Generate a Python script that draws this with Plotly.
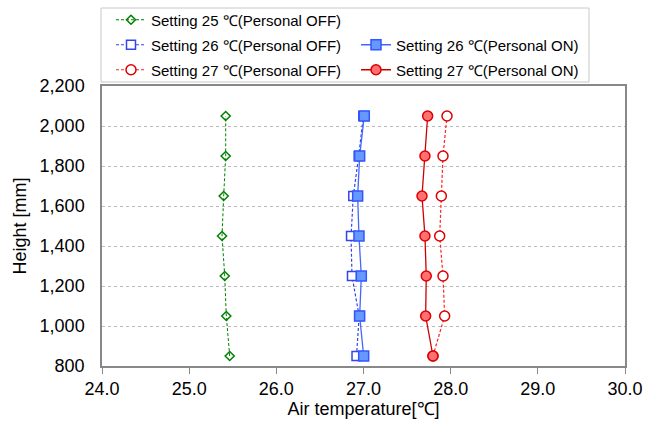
import plotly.graph_objects as go

heights = [850, 1050, 1250, 1450, 1650, 1850, 2050]
t25_off = [25.465, 25.426, 25.408, 25.377, 25.396, 25.419, 25.419]
t26_off = [26.920, 26.950, 26.868, 26.857, 26.883, 26.945, 26.998]
t26_on = [27.002, 26.956, 26.975, 26.948, 26.933, 26.956, 27.009]
t27_off = [27.797, 27.931, 27.912, 27.874, 27.893, 27.912, 27.958]
t27_on = [27.797, 27.713, 27.720, 27.705, 27.671, 27.705, 27.736]

x_ticks = [24, 25, 26, 27, 28, 29, 30]
y_ticks = [800, 1000, 1200, 1400, 1600, 1800, 2000, 2200]

FONT = "Liberation Sans"
DASH = "3px,2px"

fig = go.Figure()

fig.add_trace(go.Scatter(
    x=t25_off, y=heights, mode="lines+markers",
    name="Setting 25 ℃(Personal OFF)", legend="legend",
    line=dict(color="#008000", dash=DASH, width=1),
    marker=dict(symbol="diamond-open", size=7, color="#008000", line=dict(width=1.5)),
))
fig.add_trace(go.Scatter(
    x=t26_off, y=heights, mode="lines+markers",
    name="Setting 26 ℃(Personal OFF)", legend="legend2",
    line=dict(color="#3344ee", dash=DASH, width=1.2),
    marker=dict(symbol="square", size=9, color="white", line=dict(color="#3344ee", width=1.5)),
))
fig.add_trace(go.Scatter(
    x=t27_off, y=heights, mode="lines+markers",
    name="Setting 27 ℃(Personal OFF)", legend="legend3",
    line=dict(color="#ff2222", dash=DASH, width=1.2),
    marker=dict(symbol="circle", size=10, color="white", line=dict(color="#dd0000", width=1.5)),
))
fig.add_trace(go.Scatter(
    x=t26_on, y=heights, mode="lines+markers",
    name="Setting 26 ℃(Personal ON)", legend="legend2",
    line=dict(color="#4466ff", width=1.3),
    marker=dict(symbol="square", size=10, color="#6699ff", line=dict(color="#3355ff", width=1.5)),
))
fig.add_trace(go.Scatter(
    x=t27_on, y=heights, mode="lines+markers",
    name="Setting 27 ℃(Personal ON)", legend="legend3",
    line=dict(color="#cc0000", width=1.3),
    marker=dict(symbol="circle", size=10, color="#ff7070", line=dict(color="#dd0000", width=1.5)),
))

legend_common = dict(
    orientation="h", xref="container", yref="container",
    xanchor="left", yanchor="middle",
    font=dict(family=FONT, size=15, color="#000"),
    bgcolor="rgba(0,0,0,0)", entrywidth=200, entrywidthmode="pixels",
    traceorder="normal",
)

fig.update_layout(
    width=655, height=428,
    margin=dict(l=102, r=30, t=86, b=62, autoexpand=False),
    paper_bgcolor="white", plot_bgcolor="white",
    font=dict(family=FONT, size=18, color="#000"),
    showlegend=True,
    legend=dict(x=111/655, y=1 - 20/428, **legend_common),
    legend2=dict(x=111/655, y=1 - 45/428, **legend_common),
    legend3=dict(x=111/655, y=1 - 70/428, **legend_common),
    xaxis=dict(
        range=[24, 30], tickvals=x_ticks, ticktext=[f"{v:.1f}" for v in x_ticks],
        showgrid=False, zeroline=False,
        showline=True, linecolor="#888", linewidth=1.5, mirror=True,
        ticks="outside", ticklen=6, tickcolor="#888",
        title=dict(text="Air temperature[℃]", font=dict(size=18), standoff=4),
        tickfont=dict(size=18),
    ),
    yaxis=dict(
        range=[800, 2200], tickvals=y_ticks, tickformat=",d",
        showgrid=True, gridcolor="#bbbbbb", griddash="dot", gridwidth=1,
        zeroline=False,
        showline=True, linecolor="#888", linewidth=1.5, mirror=True,
        ticks="", tickfont=dict(size=18), ticklabelstandoff=12,
        title=dict(text="Height [mm]", font=dict(size=18), standoff=8),
    ),
    shapes=[dict(
        type="rect", xref="paper", yref="paper",
        x0=-1/523, x1=487/523, y0=(366-82)/280, y1=(366-8)/280,
        line=dict(color="#c8c8c8", width=1), fillcolor="rgba(0,0,0,0)", layer="below",
    )],
)

fig.write_html("out.html", config={"displayModeBar": False},
               post_script="document.body.style.margin='0';")
